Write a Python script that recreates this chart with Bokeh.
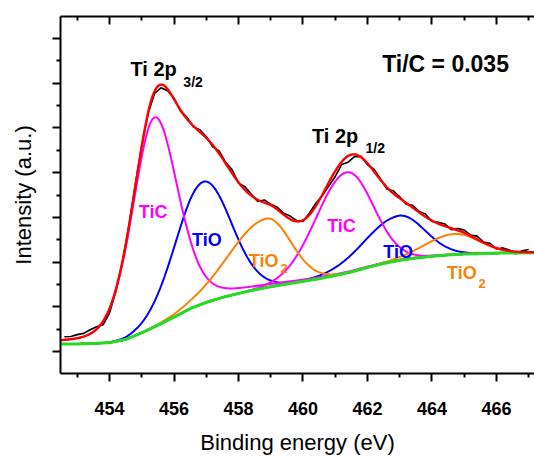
import numpy as np
from bokeh.plotting import figure
from bokeh.models import Range1d, LinearAxis, FixedTicker, Label, CustomJSTickFormatter
from bokeh.embed import file_html
from bokeh.resources import INLINE

# ---------------- data ----------------
# Shirley-type background (green line)
bg_energy = [452.5, 453.0, 453.5, 454.0, 454.5, 455.0, 455.5, 456.0, 456.5, 457.0,
             457.5, 458.0, 458.5, 459.0, 459.5, 460.0, 460.5, 461.0, 461.5, 462.0,
             462.5, 463.0, 463.5, 464.0, 464.5, 465.0, 466.0, 467.2]
bg_intensity = [0.17, 0.17, 0.18, 0.20, 0.27, 0.42, 0.59, 0.77, 0.96, 1.10,
                1.21, 1.30, 1.38, 1.45, 1.51, 1.57, 1.63, 1.70, 1.78, 1.88,
                1.97, 2.04, 2.09, 2.13, 2.16, 2.18, 2.20, 2.21]

# Fitted components (peak above background)
comp_names = ["TiC 2p3/2", "TiO 2p3/2", "TiO2 2p3/2", "TiC 2p1/2", "TiO 2p1/2", "TiO2 2p1/2"]
comp_colors = ["#FF00FF", "#0000FF", "#FF8000", "#FF00FF", "#0000FF", "#FF8000"]
comp_center = [455.39, 456.90, 458.87, 461.35, 462.97, 464.70]
comp_height = [4.68, 2.72, 1.54, 2.25, 1.00, 0.46]
comp_fwhm_low = [1.62, 2.00, 2.70, 2.23, 2.50, 2.12]
comp_fwhm_high = [1.72, 2.03, 1.76, 1.93, 1.88, 1.81]
comp_lorentz = [0.25, 0.0, 0.0, 0.0, 0.0, 0.0]

# Measured spectrum: residual from the fit envelope, every 0.2 eV from 452.6 eV
data_start = 452.6
data_step = 0.2
data_residual = [0.07, 0.06, 0.08, 0.07, 0.09, 0.05, -0.08, -0.10, -0.05, 0.00,
                 0.03, 0.05, 0.02, -0.02, -0.05, -0.07, -0.04, 0.02, -0.03, 0.04,
                 -0.02, 0.05, 0.03, -0.04, 0.06, 0.02, 0.08, -0.02, 0.07, 0.03,
                 -0.04, 0.06, 0.02, 0.05, 0.03, 0.07, 0.02, -0.03, 0.04, 0.06,
                 -0.02, -0.08, -0.12, -0.06, -0.14, -0.05, 0.02, -0.03, 0.05, 0.02,
                 -0.04, 0.06, 0.03, -0.03, 0.05, 0.02, 0.06, -0.02, 0.03, 0.05,
                 -0.03, 0.04, 0.06, 0.02, 0.07, 0.01, 0.05, -0.03, 0.04, 0.02,
                 -0.05, 0.03, 0.06]

x_ticks = [454, 456, 458, 460, 462, 464, 466]
x_minor = [453, 455, 457, 459, 461, 463, 465, 467]
y_ticks = [0, 1, 2, 3, 4, 5, 6, 7]
y_minor = [-0.5, 0.5, 1.5, 2.5, 3.5, 4.5, 5.5, 6.5, 7.5]

# ---------------- model ----------------
def peak(e, c, h, wl, wh, m):
    e = np.asarray(e, dtype=float)
    w = np.where(e < c, wl, wh)
    d2 = 4.0 * (e - c) ** 2 / w ** 2
    g = np.exp(-np.log(2.0) * d2)
    lor = 1.0 / (1.0 + d2)
    return h * ((1 - m) * g + m * lor)

def background(e):
    return np.interp(e, bg_energy, bg_intensity)

def envelope(e):
    tot = background(e)
    for c, h, wl, wh, m in zip(comp_center, comp_height, comp_fwhm_low, comp_fwhm_high, comp_lorentz):
        tot = tot + peak(e, c, h, wl, wh, m)
    return tot

grid = np.linspace(452.5, 467.2, 600)
bg_grid = background(grid)

data_energy = np.array([data_start + data_step * i for i in range(len(data_residual))])
data_intensity = envelope(data_energy) + np.array(data_residual)

FONT = "Liberation Sans"

p = figure(width=534, height=457,
           x_range=Range1d(452.48, 467.18), y_range=Range1d(-0.49, 7.49),
           output_backend="svg", toolbar_location=None,
           min_border_left=60, min_border_right=0, min_border_top=16, min_border_bottom=84)
p.outline_line_color = None
p.grid.visible = False

# measured data
p.line(data_energy, data_intensity, line_color="black", line_width=1.6)
# components
order = [1, 4, 0, 3, 2, 5]
for i in order:
    y = bg_grid + peak(grid, comp_center[i], comp_height[i], comp_fwhm_low[i],
                       comp_fwhm_high[i], comp_lorentz[i])
    p.line(grid, y, line_color=comp_colors[i], line_width=2)
# background
p.line(grid, bg_grid, line_color="#22DD22", line_width=3)
# envelope
p.line(grid, envelope(grid), line_color="#FF0000", line_width=2.4)

# axes
xa = p.xaxis[0]
xa.ticker = FixedTicker(ticks=x_ticks, minor_ticks=x_minor)
ya = p.yaxis[0]
ya.ticker = FixedTicker(ticks=y_ticks, minor_ticks=y_minor)
for ax in (xa, ya):
    ax.axis_line_width = 2
    ax.major_tick_line_width = 2
    ax.minor_tick_line_width = 2
    ax.major_tick_in = 0
    ax.major_tick_out = 8
    ax.minor_tick_in = 0
    ax.minor_tick_out = 4
    ax.axis_label_text_font = FONT
    ax.axis_label_text_font_size = "22px"
    ax.axis_label_text_font_style = "normal"
    ax.axis_label_text_color = "black"

xa.axis_label = "Binding energy (eV)"
xa.major_label_text_font = FONT
xa.major_label_text_font_size = "18px"
xa.major_label_text_font_style = "bold"
xa.major_label_text_color = "black"
xa.major_label_standoff = 20
xa.axis_label_standoff = 12

blank = CustomJSTickFormatter(code="return ''")
ya.axis_label = "Intensity (a.u.)"
ya.formatter = blank
ya.major_label_text_color = None
ya.major_label_standoff = 0
ya.axis_label_standoff = 17

top = LinearAxis(ticker=FixedTicker(ticks=x_ticks, minor_ticks=x_minor),
                 formatter=CustomJSTickFormatter(code="return ''"),
                 axis_line_width=2, major_tick_line_width=2, minor_tick_line_width=2,
                 major_tick_in=8, major_tick_out=0, minor_tick_in=4, minor_tick_out=0,
                 major_label_text_color=None, major_label_standoff=0)
p.add_layout(top, "above")

def lab(x, y, text, size, color="black", align="left"):
    p.add_layout(Label(x=x, y=y, text=text, text_font=FONT, text_font_size=size,
                       text_font_style="bold", text_color=color, text_align=align,
                       text_baseline="alphabetic"))

lab(454.65, 6.323, "Ti 2p", "20px")
lab(456.29, 6.023, "3/2", "14px")
lab(460.28, 4.809, "Ti 2p", "20px")
lab(461.94, 4.556, "1/2", "14px")
lab(462.455, 6.435, "Ti/C = 0.035", "23px")

lab(455.35, 3.109, "TiC", "18px", "#FF00FF", "center")
lab(456.56, 2.483, "TiO", "18px", "#0000FF")
lab(458.32, 2.035, "TiO", "18px", "#FF8000")
lab(459.30, 1.850, "2", "13px", "#FF8000")
lab(460.75, 2.818, "TiC", "18px", "#FF00FF")
lab(462.49, 2.221, "TiO", "18px", "#0000FF")
lab(464.47, 1.751, "TiO", "18px", "#FF8000")
lab(465.44, 1.528, "2", "13px", "#FF8000")

open("out.html", "w").write(file_html(p, INLINE))
